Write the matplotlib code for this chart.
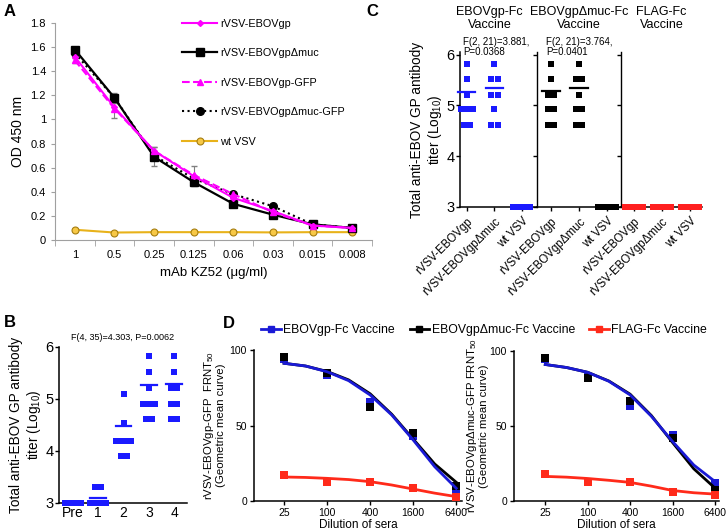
import matplotlib
matplotlib.use('Agg')
import matplotlib.pyplot as plt
from matplotlib.lines import Line2D

plt.rcParams['font.family'] = ['Liberation Sans', 'DejaVu Sans']
plt.rcParams['mathtext.fontset'] = 'custom'
plt.rcParams['mathtext.rm'] = 'Liberation Sans'

# ---- A: ELISA mit mAb KZ52
conc_labels = ['1', '0.5', '0.25', '0.125', '0.06', '0.03', '0.015', '0.008']
od_gp = [1.52, 1.10, 0.74, 0.53, 0.35, 0.24, 0.12, 0.10]
od_muc = [1.58, 1.18, 0.69, 0.48, 0.30, 0.21, 0.13, 0.10]
od_muc_err = [0.02, 0.04, 0.08, 0.03, 0.02, 0.02, 0.02, 0.01]
od_gp_gfp = [1.49, 1.09, 0.74, 0.54, 0.38, 0.23, 0.12, 0.10]
od_gp_gfp_err = [0.02, 0.08, 0.03, 0.07, 0.02, 0.02, 0.02, 0.01]
od_muc_gfp = [1.55, 1.18, 0.70, 0.51, 0.38, 0.28, 0.13, 0.10]
od_wt = [0.085, 0.062, 0.065, 0.065, 0.065, 0.063, 0.065, 0.065]

# ---- B: titer nach Immunisierung
b_groups = ['Pre', '1', '2', '3', '4']
b_titers = [
    [3, 3, 3, 3, 3, 3, 3, 3],
    [3.3, 3.3, 3, 3, 3, 3, 3, 3],
    [5.1, 4.53, 4.2, 4.2, 4.2, 4.2, 3.9, 3.9],
    [5.82, 5.51, 5.21, 4.91, 4.91, 4.91, 4.61, 4.61],
    [5.82, 5.51, 5.21, 5.21, 4.91, 4.91, 4.61, 4.61],
]
b_means = [3.0, 3.10, 4.48, 5.27, 5.29]

# ---- C
c_vaccines = ['EBOVgp-Fc\nVaccine', 'EBOVgpΔmuc-Fc\nVaccine', 'FLAG-Fc\nVaccine']
c_viruses = ['rVSV-EBOVgp', 'rVSV-EBOVgpΔmuc', 'wt VSV']
c_titers = [
    [[5.82, 5.52, 5.21, 4.92, 4.92, 4.92, 4.61, 4.61],
     [5.82, 5.52, 5.52, 5.21, 5.21, 4.92, 4.61, 4.61],
     [3, 3, 3, 3, 3, 3, 3, 3]],
    [[5.82, 5.52, 5.21, 5.21, 4.92, 4.92, 4.61, 4.61],
     [5.82, 5.52, 5.52, 5.21, 4.92, 4.92, 4.61, 4.61],
     [3, 3, 3, 3, 3, 3, 3, 3]],
    [[3, 3, 3, 3, 3, 3, 3, 3],
     [3, 3, 3, 3, 3, 3, 3, 3],
     [3, 3, 3, 3, 3, 3, 3, 3]],
]
c_means = [[5.27, 5.35, 3.0], [5.29, 5.34, 3.0], [3.0, 3.0, 3.0]]
c_stats = ['F(2, 21)=3.881,\nP=0.0368', 'F(2, 21)=3.764,\nP=0.0401', '']
c_colors = ['#1a1aff', 'black', '#ff2020']

# ---- D: FRNT
dilutions = [25, 100, 400, 1600, 6400]
curve_dil = [25, 50, 100, 200, 400, 800, 1600, 3200, 6400]
d1_gp_pts = [94, 83.4, 65.8, 43, 6.8]
d1_muc_pts = [95.6, 85, 62, 45.3, 10.2]
d1_flag_pts = [17.4, 12.4, 12.8, 8.6, 2.4]
d1_gp_fit = [91.2, 89.4, 85.6, 79.7, 70.2, 57, 40.4, 22.7, 8.4]
d1_muc_fit = [91.2, 89.4, 85.8, 80.2, 71, 57.5, 41, 24.5, 12.4]
d1_flag_fit = [15.9, 15.6, 15, 14.2, 12.8, 10.6, 7.9, 5.2, 2.9]
d2_gp_pts = [95, 83, 63.6, 44.3, 12]
d2_muc_pts = [95.6, 82.3, 67, 41.7, 7.1]
d2_flag_pts = [17.7, 12.4, 12.6, 6.2, 3.8]
d2_gp_fit = [91, 89, 85.8, 79.8, 70.7, 56.5, 39.7, 24, 13]
d2_muc_fit = [91, 89, 85.8, 80, 71.2, 57, 39, 21.5, 8.6]
d2_flag_fit = [16.4, 15.9, 15, 13.8, 12.4, 9.9, 7, 5.5, 4.6]
d_names = ['EBOVgp-Fc Vaccine', 'EBOVgpΔmuc-Fc Vaccine', 'FLAG-Fc Vaccine']
d_colors = ['#1a1ad6', 'black', '#ff2a1a']

W, H = 726, 532
fig = plt.figure(figsize=(W / 100, H / 100), dpi=100)


def box(x0, y0, x1, y1):
    # pixel box -> figure fraction
    return [x0 / W, 1 - y1 / H, (x1 - x0) / W, (y1 - y0) / H]


def spread(vals, step=0.23, width=0.62):
    # horizontale Streuung gleicher Werte (wie GraphPad)
    counts = {}
    for v in vals:
        counts[v] = counts.get(v, 0) + 1
    seen = {}
    xs = []
    for v in vals:
        n = counts[v]
        i = seen.get(v, 0)
        seen[v] = i + 1
        s = min(step, width / (n - 1)) if n > 1 else 0
        xs.append((i - (n - 1) / 2) * s)
    return xs


def prism_style(ax):
    for s in ['top', 'right']:
        ax.spines[s].set_visible(False)
    for s in ['left', 'bottom']:
        ax.spines[s].set_linewidth(1.1)
    ax.tick_params(direction='out', length=3, width=1)


# ================= A
axA = fig.add_axes(box(55, 23, 372, 240))
xs = list(range(len(conc_labels)))
axA.plot(xs, od_wt, '-o', color='#e8b21a', lw=1.5, ms=5, mfc='#f7c846', mec='#a57d10', mew=0.8,
         label='wt VSV', zorder=2)
axA.errorbar(xs, od_muc, yerr=od_muc_err, fmt='none', ecolor='#808080', elinewidth=0.8, capsize=2, zorder=1)
axA.errorbar(xs, od_gp_gfp, yerr=od_gp_gfp_err, fmt='none', ecolor='#808080', elinewidth=0.8, capsize=2, zorder=1)
l1, = axA.plot(xs, od_gp, '-D', color='#ff00ff', lw=1.5, ms=3, label='rVSV-EBOVgp', zorder=4)
l2, = axA.plot(xs, od_muc, '-s', color='black', lw=1.6, ms=6, label='rVSV-EBOVgpΔmuc', zorder=3)
l3, = axA.plot(xs, od_gp_gfp, '--^', color='#ff00ff', lw=1.5, ms=5, label='rVSV-EBOVgp-GFP', zorder=4)
l4, = axA.plot(xs, od_muc_gfp, ':o', color='black', lw=1.5, ms=5.5, label='rVSV-EBVOgpΔmuc-GFP', zorder=3)
l5 = axA.lines[0]
axA.set_xlim(-0.5, 7.5)
axA.set_ylim(0, 1.8)
axA.set_xticks(xs)
axA.set_xticklabels(conc_labels, fontsize=8)
axA.set_xticks([x + 0.5 for x in range(-1, 8)], minor=True)
axA.tick_params(axis='x', which='major', length=0, pad=7)
axA.tick_params(axis='x', which='minor', length=4, color='#a0a0a0')
yt = [0, 0.2, 0.4, 0.6, 0.8, 1.0, 1.2, 1.4, 1.6, 1.8]
axA.set_yticks(yt)
axA.set_yticklabels(['0', '0.2', '0.4', '0.6', '0.8', '1', '1.2', '1.4', '1.6', '1.8'], fontsize=8)
axA.tick_params(axis='y', length=3, color='#a0a0a0')
for s in ['top', 'right']:
    axA.spines[s].set_visible(False)
for s in ['left', 'bottom']:
    axA.spines[s].set_color('#a0a0a0')
axA.set_ylabel('OD 450 nm', fontsize=10, labelpad=4)
axA.set_xlabel('mAb KZ52 (μg/ml)', fontsize=9.5, labelpad=5)
axA.legend([l1, l2, l3, l4, l5], [h.get_label() for h in [l1, l2, l3, l4, l5]],
           loc='upper left', bbox_to_anchor=(0.385, 1.045), frameon=False, fontsize=7.8,
           handlelength=3.2, handletextpad=0.3, labelspacing=1.8, borderpad=0)

# ================= B
axB = fig.add_axes(box(59, 347, 187, 503))
for i, vals in enumerate(b_titers):
    off = spread(vals)
    axB.plot([i + o for o in off], vals, 's', color='#1a1aff', ms=4, mew=0, clip_on=False, zorder=3)
    axB.plot([i - 0.31, i + 0.31], [b_means[i]] * 2, color='#1a1aff', lw=1.6, clip_on=False, zorder=3)
axB.set_xlim(-0.55, 4.5)
axB.set_ylim(3, 6)
axB.set_yticks([3, 4, 5, 6])
axB.set_yticklabels(['3', '4', '5', '6'], fontsize=10.5)
axB.set_xticks(range(len(b_groups)))
axB.set_xticklabels(b_groups, fontsize=10)
prism_style(axB)
axB.tick_params(axis='y', pad=1)
axB.tick_params(axis='x', length=0, pad=2)
axB.set_ylabel('Total anti-EBOV GP antibody\ntiter (Log$\\mathregular{_{10}}$)', fontsize=9.8, labelpad=2,
               linespacing=1.15)
axB.set_title('F(4, 35)=4.303, P=0.0062', fontsize=6.5, pad=5)

# ================= C
c_boxes = [(460, 537, -0.25, 2.55), (537, 621, -0.5, 2.5), (621, 702, -0.46, 2.43)]
for g, (x0, x1, lo, hi) in enumerate(c_boxes):
    ax = fig.add_axes(box(x0, 52, x1, 207))
    col = c_colors[g]
    for j, vals in enumerate(c_titers[g]):
        off = spread(vals)
        ax.plot([j + o for o in off], vals, 's', color=col, ms=4, mew=0, clip_on=False, zorder=3)
        ax.plot([j - 0.31, j + 0.31], [c_means[g][j]] * 2, color=col, lw=1.6, clip_on=False, zorder=3)
    ax.set_xlim(lo, hi)
    ax.set_ylim(3, 6.05)
    ax.set_yticks([3, 4, 5, 6])
    ax.set_xticks(range(3))
    ax.set_xticklabels(c_viruses, rotation=45, ha='right', rotation_mode='anchor', fontsize=8.3)
    prism_style(ax)
    ax.tick_params(axis='x', pad=3)
    if g == 0:
        ax.set_yticklabels(['3', '4', '5', '6'], fontsize=10.5)
        ax.tick_params(axis='y', pad=1)
        ax.set_ylabel('Total anti-EBOV GP antibody\ntiter (Log$\\mathregular{_{10}}$)', fontsize=9.8,
                      labelpad=2, linespacing=1.15)
    else:
        ax.set_yticklabels([])
        ax.spines['left'].set_linewidth(1.0)
    fig.text((x0 + x1) / 2 / W + (-0.012 if g == 0 else 0.0), 1 - 6 / H, c_vaccines[g], ha='center',
             va='top', fontsize=9, linespacing=1.1)
    if c_stats[g]:
        fig.text((x0 + 3 if g == 0 else x0 + 9) / W, 1 - 37 / H, c_stats[g], ha='left', va='top',
                 fontsize=7, linespacing=1.05)

# ================= D
d_sets = [
    (box(254, 350, 462, 501), d1_gp_pts, d1_muc_pts, d1_flag_pts, d1_gp_fit, d1_muc_fit, d1_flag_fit,
     (9.5, 7700), 'rVSV-EBOVgp-GFP  FRNT$\\mathregular{_{50}}$\n(Geometric mean curve)', 3),
    (box(514, 351, 719, 501), d2_gp_pts, d2_muc_pts, d2_flag_pts, d2_gp_fit, d2_muc_fit, d2_flag_fit,
     (9.0, 7300), 'rVSV-EBOVgpΔmuc-GFP FRNT$\\mathregular{_{50}}$\n(Geometric mean curve)', 0.5),
]
for rect, gp_p, muc_p, flag_p, gp_f, muc_f, flag_f, xl, ylab, lpad in d_sets:
    ax = fig.add_axes(rect)
    ax.set_xscale('log', base=2)
    ax.plot(dilutions, gp_p, 's', color=d_colors[0], ms=5.5, mew=0, clip_on=False, zorder=3)
    ax.plot(dilutions, muc_p, 's', color=d_colors[1], ms=5.5, mew=0, clip_on=False, zorder=3)
    ax.plot(dilutions, flag_p, 's', color=d_colors[2], ms=5.5, mew=0, clip_on=False, zorder=3)
    ax.plot(curve_dil, muc_f, '-', color=d_colors[1], lw=2, zorder=4)
    ax.plot(curve_dil, gp_f, '-', color=d_colors[0], lw=2, zorder=5)
    ax.plot(curve_dil, flag_f, '-', color=d_colors[2], lw=2, zorder=5)
    ax.set_xlim(*xl)
    ax.set_ylim(0, 100)
    ax.set_xticks(dilutions)
    ax.set_xticklabels([str(d) for d in dilutions], fontsize=7.5)
    ax.minorticks_off()
    ax.set_yticks([0, 50, 100])
    ax.set_yticklabels(['0', '50', '100'], fontsize=7.5)
    prism_style(ax)
    ax.tick_params(axis='x', pad=2)
    ax.tick_params(axis='y', pad=2)
    ax.set_xlabel('Dilution of sera', fontsize=8.5, labelpad=1)
    ax.set_ylabel(ylab, fontsize=8.2, labelpad=lpad, linespacing=1.0)

d_handles = [Line2D([], [], color=c, lw=2, marker='s', ms=4.5) for c in d_colors]
fig.legend(d_handles, d_names, loc='upper center', bbox_to_anchor=(0.667, 1 - 318 / H), ncol=3,
           frameon=False, fontsize=8.8, handlelength=1.6, handletextpad=0.2, columnspacing=1.2, borderpad=0)

# Paneelbuchstaben
for lab, px, py in [('A', 4, 4), ('B', 4, 315), ('C', 366, 4), ('D', 223, 316)]:
    fig.text(px / W, 1 - py / H, lab, fontsize=12, fontweight='bold', ha='left', va='top')

fig.savefig('out.png', dpi=100)
